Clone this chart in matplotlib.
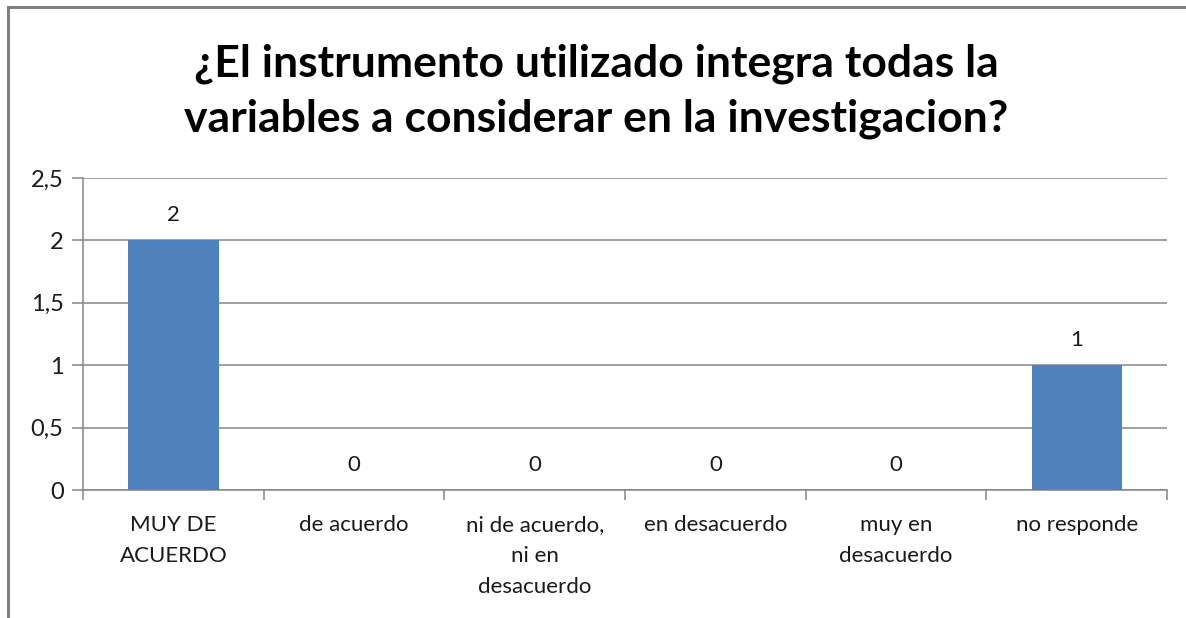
import matplotlib.pyplot as plt
from matplotlib.ticker import FuncFormatter, FixedLocator
from matplotlib.lines import Line2D

categorias = ['MUY DE\nACUERDO', 'de acuerdo', 'ni de acuerdo,\nni en\ndesacuerdo',
              'en desacuerdo', 'muy en\ndesacuerdo', 'no responde']
valores = [2, 0, 0, 0, 0, 1]
titulo = '¿El instrumento utilizado integra todas la\nvariables a considerar en la investigacion?'

plt.rcParams['font.family'] = ['Lato', 'DejaVu Sans']

fig = plt.figure(figsize=(11.86, 6.18), dpi=100)
ax = fig.add_axes([0.070, 0.207, 0.914, 0.505])

gris = '#868686'
x = range(len(valores))
barras = ax.bar(x, valores, width=0.5, color='#4F81BD', zorder=3)

# etiquetas de datos
for xi, v in zip(x, valores):
    ax.annotate(str(v), xy=(xi, v), xytext=(0, 11), textcoords='offset points',
                ha='center', va='bottom', fontsize=16, color='#1a1a1a')

ax.set_xlim(-0.5, len(valores) - 0.5)
ax.set_ylim(0, 2.5)
ax.set_yticks([0, 0.5, 1, 1.5, 2, 2.5])
ax.yaxis.set_major_formatter(FuncFormatter(lambda v, p: ('%g' % v).replace('.', ',')))
ax.grid(axis='y', color=gris, linewidth=1.1, zorder=0)

ax.set_xticks(list(x))
ax.set_xticklabels(categorias, fontsize=16, color='#1a1a1a', linespacing=1.7)
ax.tick_params(axis='x', length=0, pad=18)
ax.xaxis.set_minor_locator(FixedLocator([i - 0.5 for i in range(len(valores) + 1)]))
ax.tick_params(axis='x', which='minor', length=7, color=gris, width=1.1)
ax.tick_params(axis='y', length=8, color=gris, width=1.1, labelsize=17, labelcolor='#1a1a1a', pad=6)

for s in ['top', 'right']:
    ax.spines[s].set_visible(False)
for s in ['left', 'bottom']:
    ax.spines[s].set_color(gris)
    ax.spines[s].set_linewidth(1.1)

fig.text(0.503, 0.852, titulo, ha='center', va='center', fontsize=32,
         fontweight='bold', linespacing=1.45, color='black')

# borde del grafico
fig.add_artist(Line2D([0.0068, 0.0068], [0, 0.989], color='#7f7f7f', linewidth=2.2,
                      transform=fig.transFigure))
fig.add_artist(Line2D([0.0068, 1.0], [0.989, 0.989], color='#7f7f7f', linewidth=2.2,
                      transform=fig.transFigure))

fig.savefig('out.png', dpi=100, facecolor='white')
